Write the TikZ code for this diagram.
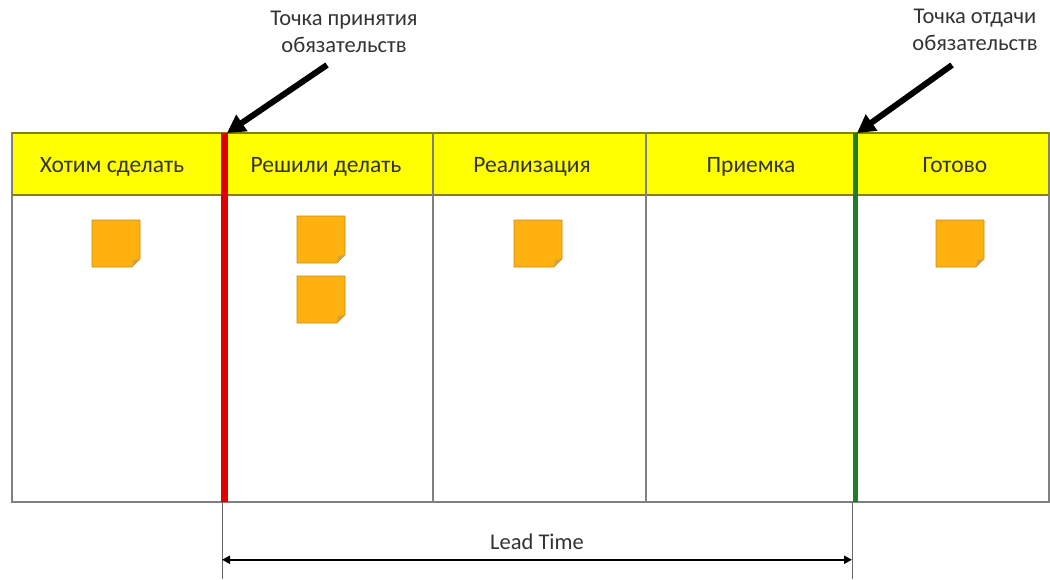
\documentclass[tikz,border=0pt]{standalone}
\usepackage{fontspec}
\setmainfont{Carlito}
\usetikzlibrary{arrows.meta, positioning, calc}
\definecolor{hdryellow}{HTML}{FFFF00}
\definecolor{hdredge}{HTML}{8A8000}
\definecolor{noteorange}{HTML}{FFB10F}
\definecolor{noteedge}{HTML}{C88A10}
\definecolor{linered}{HTML}{E00000}
\definecolor{linegreen}{HTML}{1E7D2A}

\begin{document}
\begin{tikzpicture}[x=1pt,y=-1pt,
  hdr/.style={font=\fontsize{23.5}{27}\selectfont, text=black!80, text height=17pt, text depth=5pt},
  lbl/.style={font=\fontsize{22.5}{27}\selectfont, align=center, text=black!80},
  bigarrow/.style={line width=6pt, -{Triangle[length=18pt,width=19pt]}},
  grid/.style={draw=black!50, line width=1.2pt}]

        \useasboundingbox (0,0) rectangle (1050,579);

        % header strip and board
        \fill[hdryellow] (12,133) rectangle (1049,195);
        \draw[grid] (12,133) rectangle (1049,502);
        \draw[hdredge, line width=1.2pt] (12,133) -- (1049,133);
        \draw[hdredge, line width=1.2pt] (12,195) -- (1049,195);
        \foreach \x in {433,646} \draw[grid] (\x,133) -- (\x,502);

        % header texts
        \node[hdr] (want)    at (112,166) {Хотим сделать};
        \node[hdr] (decided) at (326,166) {Решили делать};
        \node[hdr] (impl)    at (532,166) {Реализация};
        \node[hdr] (accpt)   at (751,166) {Приемка};
        \node[hdr] (done)    at (955,166) {Готово};

        % stickers
        \foreach \x/\y in {92/220, 297/216, 297/276, 514/220, 936/220} {
          \draw[noteedge, fill=noteorange, line width=0.6pt]
            (\x,\y) -- ++(48,0) -- ++(0,39) -- ++(-8,8) -- ++(-40,0) -- cycle;
          \fill[noteedge!80] (\x+48,\y+39) -- ++(-8,8) -- ++(1,-7) -- cycle;
        }

        % commitment lines
        \coordinate (redtop) at (224,133);
        \coordinate (redbot) at (224,502);
        \coordinate (greentop) at (855,133);
        \coordinate (greenbot) at (855,502);
        \draw[linered, line width=7pt] (redtop) -- (redbot);
        \draw[linegreen, line width=5pt] (greentop) -- (greenbot);

        % labels with arrows
        \node[lbl] (inpt) at (344,32) {Точка принятия\\обязательств};
        \node[lbl] (outpt) at (975,30) {Точка отдачи\\обязательств};
        \coordinate (a1) at (327,65);
        \coordinate (a2) at (952,65);
        \draw[bigarrow] (a1) -- ($(redtop)+(3,0)$);
        \draw[bigarrow] (a2) -- ($(greentop)+(2,0)$);

        % lead time
        \coordinate (lt1) at (222,502);
        \coordinate (lt2) at (852,502);
        \coordinate (lt1b) at (222,579);
        \coordinate (lt2b) at (852,579);
        \draw[black!60, line width=0.8pt] (lt1) -- (lt1b);
        \draw[black!60, line width=0.8pt] (lt2) -- (lt2b);
        \draw[line width=2.2pt, {Triangle[length=8pt,width=8pt]}-{Triangle[length=8pt,width=8pt]}]
          ($(lt1)!0.75!(lt1b)$) -- ($(lt2)!0.75!(lt2b)$);
        \node[lbl] (lead) at (537,542) {Lead Time};

\end{tikzpicture}
\end{document}
